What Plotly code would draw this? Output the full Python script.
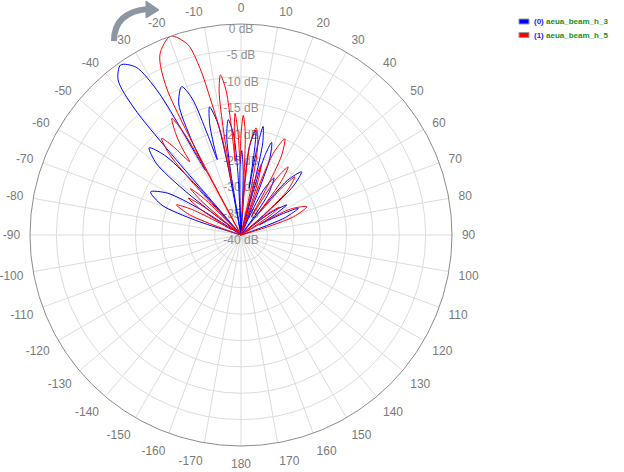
import plotly.graph_objects as go

# ---------------- data ----------------
series_names = ["aeua_beam_h_3", "aeua_beam_h_5"]
series_ids = ["(0)", "(1)"]
series_colors = ["#0000ff", "#ff0000"]

blue_theta = [-80, -74,
              -72.1, -69.3, -64.5, -60.3, -57.7, -56,
              -53, -51.7, -49.8, -46.5, -43.8, -42.1, -41,
              -40.2, -38.4, -35.3, -32.0, -30.0, -28.8,
              -27.6, -25.4, -21.8, -19.7, -18.4, -17.5,
              -16.8, -15.7, -13.8, -11.9, -10.8, -10,
              -9.3, -8.2, -6.3, -4.2, -2.9, -2,
              -1.5, -0.75, 0.5, 1.75, 2.5, 3,
              4, 5.5, 8, 8.9, 9.45, 9.8,
              10.1, 10.65, 11.5, 13.25, 14.3, 15,
              15.7, 16.65, 18.3, 20.65, 21.8, 23,
              24.4, 26.5, 30, 33.5, 35.6, 37,
              38.4, 40.4, 43.8, 46.9, 49, 50,
              51.3, 53.35, 56.7, 58.85, 60.1, 61,
              61.8, 63, 65, 68.5, 70.6, 72, 80]
blue_db = [-40, -40,
           -31, -24, -21, -24, -31, -40,
           -40, -26, -19, -16, -19, -26, -40,
           -9, -2.5, -0.5, -2.5, -9, -26,
           -20, -12.5, -9.7, -12.5, -20, -25,
           -22, -18, -15, -18, -26, -40,
           -28, -21, -18, -21, -28, -40,
           -32, -27, -24, -27, -32, -40,
           -30, -23, -20, -23, -28, -31,
           -27, -22, -19, -22, -30, -40,
           -32, -24.5, -21.5, -24.5, -32, -40,
           -36, -30.5, -27.5, -30.5, -36, -40,
           -34, -26.4, -23.4, -26.4, -34, -40,
           -37, -32.6, -29.6, -32.6, -35, -36,
           -34, -31, -28, -31, -37, -40, -40]

red_theta = [-80, -72,
             -70.6, -68.5, -65, -62.5, -61, -60,
             -59, -57.5, -55, -53, -51.8, -51,
             -50.3, -49.25, -47.5, -45.5, -44.3, -43.5,
             -42.7, -41.45, -39.4, -37.2, -35.9, -35,
             -34.1, -32.85, -30.7, -29.35, -28.5, -28.2,
             -26.9, -24.2, -19.5, -15.6, -13.8, -12.6, -11, -10,
             -9.5, -8.65, -7.3, -5.9, -5.06, -4.5,
             -4.16, -3.65, -2.8, -1.8, -1.2, -0.8,
             -0.42, 0.15, 1.1, 2.3, 3.0, 3.5,
             4.4, 5.75, 8, 10.5, 12, 13,
             13.6, 14.5, 16, 17.5, 18.4, 19,
             20.1, 21.75, 24.5, 27, 28.5, 29.5,
             30.5, 32.1, 34.7, 36.85, 38.1, 39,
             39.8, 40.9, 42.8, 46.4, 48.6, 50,
             50.8, 52, 54, 56, 57.2, 58,
             59.7, 62.35, 66.7, 70.85, 73.3, 75, 80]
red_db = [-40, -40,
          -36, -29.5, -26.5, -29.5, -35, -38,
          -36, -30.8, -27.8, -30.8, -36, -40,
          -36, -30, -27, -30, -36, -40,
          -26, -19.3, -16.3, -19.3, -22, -23,
          -20, -17.3, -14.3, -17.3, -25, -40,
          -9, -2.5, 0, -2.5, -7.5, -14, -21, -30,
          -20, -12.4, -9.4, -12.4, -20, -26,
          -23, -20, -16.9, -20, -24, -26,
          -24, -20.3, -17.3, -20.3, -28, -36,
          -30, -22.5, -19.5, -22.5, -30, -40,
          -36, -29, -26, -29, -36, -40,
          -30, -23, -20, -23, -30, -36,
          -34, -27.3, -24.3, -27.3, -33, -35,
          -34, -28, -25, -28, -35, -40,
          -37, -33, -31, -33, -37, -40,
          -36, -29.4, -26.4, -29.4, -36, -40, -40]

radial_ticks = [0, -5, -10, -15, -20, -25, -30, -35, -40]
radial_labels = [f"{v} dB" for v in radial_ticks]
angle_ticks = list(range(0, 360, 10))
angle_labels = [str(a if a <= 180 else a - 360) for a in angle_ticks]

W, H = 624, 472
FONT = "Liberation Sans, Arial, sans-serif"

fig = go.Figure()

# radial tick labels drawn as text along the 0° spoke (under the curves)
fig.add_trace(go.Scatterpolar(
    r=radial_ticks, theta=[0] * len(radial_ticks), mode="text",
    text=radial_labels, textposition="bottom center",
    textfont=dict(family=FONT, size=12, color="#8f8f8f"),
    hoverinfo="skip", showlegend=False))

for th, db, col, nm in [(blue_theta, blue_db, series_colors[0], series_names[0]),
                        (red_theta, red_db, series_colors[1], series_names[1])]:
    fig.add_trace(go.Scatterpolar(
        r=db, theta=th, mode="lines", name=nm,
        line=dict(color=col, width=1, shape="spline", smoothing=0.8),
        showlegend=False))

# polar circle: centre (241,235), radius 211 px
x0, x1 = 30 / W, 452 / W
y0, y1 = 1 - 446 / H, 1 - 24 / H
fig.update_layout(
    width=W, height=H,
    margin=dict(l=0, r=0, t=0, b=0),
    paper_bgcolor="white",
    font=dict(family=FONT),
    showlegend=False,
    polar=dict(
        domain=dict(x=[x0, x1], y=[y0, y1]),
        bgcolor="white",
        radialaxis=dict(range=[-40, 0], tickvals=radial_ticks,
                        showticklabels=False, ticks="",
                        gridcolor="#dcdcdc", gridwidth=1,
                        showline=False, angle=90),
        angularaxis=dict(rotation=90, direction="clockwise",
                         tickvals=angle_ticks, ticktext=angle_labels,
                         ticks="outside", ticklen=7,
                         tickcolor="rgba(0,0,0,0)",
                         tickfont=dict(family=FONT, size=12, color="#7a7a7a"),
                         gridcolor="#dcdcdc", gridwidth=1,
                         showline=True, linecolor="#8c8c8c", linewidth=1),
    ),
)

# legend (swatch + coloured label) at top right
def px(x):
    return x / W

def py(y):
    return 1 - y / H

for i, (sid, nm, col) in enumerate(zip(series_ids, series_names, series_colors)):
    yc = 21.5 + 13.5 * i
    fig.add_shape(type="rect", xref="paper", yref="paper",
                  x0=px(519), x1=px(529), y0=py(yc - 2.5), y1=py(yc + 2.5),
                  fillcolor=col, line=dict(color="#999999", width=1))
    fig.add_annotation(xref="paper", yref="paper", x=px(532), y=py(yc),
                       xanchor="left", yanchor="middle", showarrow=False,
                       text=f"<b><span style='color:#1a1aff'>{sid}</span> "
                            f"<span style='color:#1a8f1a'>{nm}</span></b>",
                       font=dict(family=FONT, size=8))

# curved arrow indicating clockwise direction
fig.add_shape(type="path", xref="paper", yref="paper",
              path=f"M {px(114)},{py(41)} Q {px(114)},{py(12)} {px(148)},{py(9)}",
              line=dict(color="#8c97a3", width=6))
fig.add_shape(type="path", xref="paper", yref="paper",
              path=f"M {px(146)},{py(1)} L {px(159)},{py(10)} L {px(146)},{py(18)} Z",
              fillcolor="#8c97a3", line=dict(color="#8c97a3", width=1))

fig.write_html("out.html",
               config={"displayModeBar": False},
               post_script="document.body.style.margin='0px';"
                           "document.body.style.overflow='hidden';")
